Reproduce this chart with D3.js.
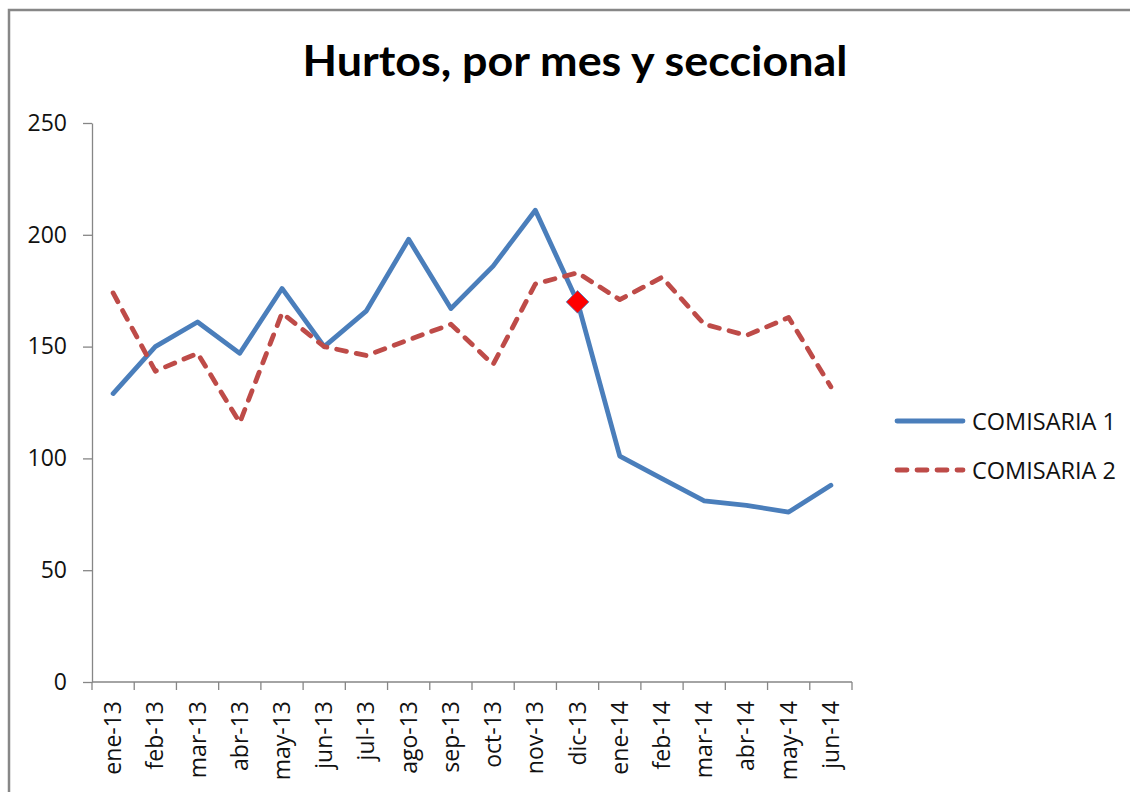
<!DOCTYPE html>
<html>
<head>
<meta charset="utf-8">
<script src="https://cdn.jsdelivr.net/npm/d3@7"></script>
<style>
  html, body { margin: 0; padding: 0; background: #fff; }
  svg { display: block; }
</style>
</head>
<body>
<svg id="chart" width="1130" height="792"></svg>
<script>
const title = "Hurtos, por mes y seccional";
const months = ["ene-13","feb-13","mar-13","abr-13","may-13","jun-13","jul-13","ago-13","sep-13","oct-13","nov-13","dic-13","ene-14","feb-14","mar-14","abr-14","may-14","jun-14"];
const seriesNames = ["COMISARIA 1", "COMISARIA 2"];
const comisaria1 = [129, 150, 161, 147, 176, 150, 166, 198, 167, 186, 211, 170, 101, 91, 81, 79, 76, 88];
const comisaria2 = [174, 139, 147, 116, 165, 150, 146, 153, 160, 142, 178, 183, 171, 181, 160, 155, 163, 132];
const yTicks = [0, 50, 100, 150, 200, 250];
const highlightMonth = "dic-13";

const svg = d3.select("#chart");

// outer chart frame
svg.append("rect")
  .attr("x", 9).attr("y", 10)
  .attr("width", 1140).attr("height", 800)
  .attr("fill", "none").attr("stroke", "#878787").attr("stroke-width", 2.5);

const plotLeft = 92, plotRight = 852, plotTop = 123, plotBottom = 682;

const x = d3.scaleBand().domain(months).range([plotLeft, plotRight]).padding(0);
const y = d3.scaleLinear().domain([0, 250]).range([plotBottom, plotTop]);

// title
svg.append("text")
  .attr("x", 575).attr("y", 76)
  .attr("text-anchor", "middle")
  .attr("font-family", "Lato, 'Open Sans', sans-serif")
  .attr("font-weight", "bold")
  .attr("font-size", 42)
  .attr("fill", "#000")
  .attr("textLength", 545)
  .attr("lengthAdjust", "spacingAndGlyphs")
  .text(title);

// y axis
const yAxis = svg.append("g")
  .attr("transform", `translate(${plotLeft},0)`)
  .call(d3.axisLeft(y).tickValues(yTicks).tickSize(9).tickPadding(16).tickSizeOuter(0));
yAxis.select(".domain").attr("stroke", "#868686").attr("stroke-width", 1.3);
yAxis.selectAll(".tick line").attr("stroke", "#868686").attr("stroke-width", 1.3);
yAxis.selectAll(".tick text")
  .attr("font-family", "'Open Sans', sans-serif")
  .attr("font-size", 23)
  .attr("fill", "#111");

// x axis with tick marks at band edges
const xAxisG = svg.append("g").attr("transform", `translate(0,${plotBottom})`);
xAxisG.append("line")
  .attr("x1", plotLeft).attr("x2", plotRight).attr("y1", 0).attr("y2", 0)
  .attr("stroke", "#868686").attr("stroke-width", 1.3);
const edges = months.map(m => x(m)).concat([x(months[months.length - 1]) + x.bandwidth()]);
xAxisG.selectAll("line.edge").data(edges).join("line")
  .attr("class", "edge")
  .attr("x1", d => d).attr("x2", d => d)
  .attr("y1", 0).attr("y2", 8)
  .attr("stroke", "#868686").attr("stroke-width", 1.3);
xAxisG.selectAll("text.lbl").data(months).join("text")
  .attr("class", "lbl")
  .attr("transform", d => `translate(${x(d) + x.bandwidth() / 2 + 8},19) rotate(-90)`)
  .attr("text-anchor", "end")
  .attr("font-family", "'Open Sans', sans-serif")
  .attr("font-size", 23)
  .attr("fill", "#111")
  .text(d => d);

const cx = d => x(d) + x.bandwidth() / 2;
const line = d3.line().x(d => cx(d.m)).y(d => y(d.v));

const s1 = months.map((m, i) => ({ m, v: comisaria1[i] }));
const s2 = months.map((m, i) => ({ m, v: comisaria2[i] }));

const blue = "#4A7EBB", red = "#BE4B48";

svg.append("path").datum(s1)
  .attr("d", line)
  .attr("fill", "none").attr("stroke", blue)
  .attr("stroke-width", 4.8).attr("stroke-linejoin", "round").attr("stroke-linecap", "round");

svg.append("path").datum(s2)
  .attr("d", line)
  .attr("fill", "none").attr("stroke", red)
  .attr("stroke-width", 4.8).attr("stroke-dasharray", "10,10")
  .attr("stroke-linejoin", "round").attr("stroke-linecap", "round");

// highlighted point
const hp = s1.find(d => d.m === highlightMonth);
svg.append("path")
  .attr("d", d3.symbol().type(d3.symbolSquare).size(256)())
  .attr("transform", `translate(${cx(hp.m)},${y(hp.v)}) rotate(45)`)
  .attr("fill", "#FF0000").attr("stroke", blue).attr("stroke-width", 0.8);

// legend
const legend = svg.append("g");
const legendY = [421, 470];
const styles = [{ color: blue, dash: null }, { color: red, dash: "10,10" }];
seriesNames.forEach((name, i) => {
  legend.append("line")
    .attr("x1", 897).attr("x2", 963)
    .attr("y1", legendY[i]).attr("y2", legendY[i])
    .attr("stroke", styles[i].color).attr("stroke-width", 4.8)
    .attr("stroke-linecap", "round")
    .attr("stroke-dasharray", styles[i].dash);
  legend.append("text")
    .attr("x", 972).attr("y", legendY[i] + 8.5)
    .attr("font-family", "'Open Sans', sans-serif")
    .attr("font-size", 23.5)
    .attr("fill", "#111")
    .text(name);
});
</script>
</body>
</html>
